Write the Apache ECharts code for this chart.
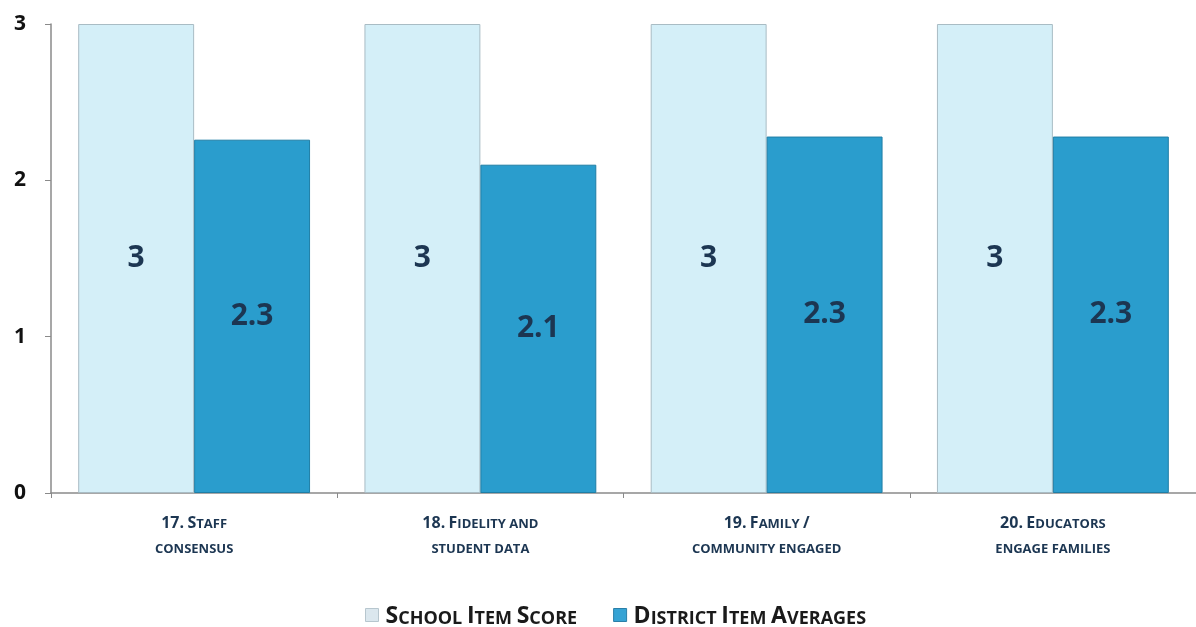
<!DOCTYPE html>
<html>
<head>
<meta charset="utf-8">
<script src="https://cdn.jsdelivr.net/npm/echarts@6/dist/echarts.min.js"></script>
<style>
html,body{margin:0;padding:0;background:#fff;}
#chart{width:1196px;height:627px;}
</style>
</head>
<body>
<div id="chart"></div>
<script>
const categories = ["17. Staff\nconsensus", "18. Fidelity and\nstudent data", "19. Family /\ncommunity engaged", "20. Educators\nengage families"];
const schoolScores = [3, 3, 3, 3];
const districtAverages = [2.26, 2.1, 2.28, 2.28];
const districtLabels = ["2.3", "2.1", "2.3", "2.3"];
const seriesNames = ["School Item Score", "District Item Averages"];
const yTicks = [0, 1, 2, 3];

// Convert text into small-caps rich text: uppercase letters in big style, others in small style
function smallCaps(text, big, small) {
  return text.split("\n").map(line => {
    let out = "", cur = null, buf = "";
    for (const ch of line) {
      const isBig = (ch !== ch.toLowerCase()) || /[0-9.\/]/.test(ch);
      const st = isBig ? big : small;
      if (st !== cur && buf) { out += "{" + cur + "|" + buf + "}"; buf = ""; }
      cur = st; buf += ch.toUpperCase();
    }
    if (buf) out += "{" + cur + "|" + buf + "}";
    return out;
  }).join("\n");
}

const navy = "#1c3652";
const chart = echarts.init(document.getElementById("chart"));
chart.setOption({
  animation: false,
  backgroundColor: "#ffffff",
  grid: { left: 51, right: -3, top: 24, bottom: 134, containLabel: false },
  legend: {
    left: 360, top: 600,
    itemWidth: 13, itemHeight: 13, itemGap: 36,
    icon: "rect",
    data: [
      { name: seriesNames[0], itemStyle: { color: "#dbe7ee", borderColor: "#b7c6ce", borderWidth: 1 } },
      { name: seriesNames[1], itemStyle: { color: "#36a3d4", borderColor: "#2a7fa8", borderWidth: 1 } }
    ],
    formatter: n => smallCaps(n, "a", "b"),
    textStyle: {
      padding: [0, 0, 0, 2],
      rich: {
        a: { fontFamily: "Open Sans", fontWeight: "bold", fontSize: 23, color: "#1a1a1a", lineHeight: 26, verticalAlign: "bottom" },
        b: { fontFamily: "Open Sans", fontWeight: "bold", fontSize: 18, color: "#1a1a1a", lineHeight: 24, verticalAlign: "bottom" }
      }
    }
  },
  xAxis: {
    type: "category",
    data: categories,
    boundaryGap: true,
    axisLine: { show: true, lineStyle: { color: "#8a8a8a", width: 1.5 } },
    axisTick: { show: true, length: 5, alignWithLabel: false, lineStyle: { color: "#8a8a8a" } },
    axisLabel: {
      margin: 13,
      interval: 0,
      formatter: v => smallCaps(v, "a", "b"),
      rich: {
        a: { fontFamily: "Open Sans", fontWeight: "bold", fontSize: 16, color: navy, lineHeight: 25, verticalAlign: "bottom" },
        b: { fontFamily: "Open Sans", fontWeight: "bold", fontSize: 13, color: navy, lineHeight: 25, verticalAlign: "bottom" }
      }
    }
  },
  yAxis: {
    type: "value",
    min: 0, max: 3, interval: 1,
    axisLine: { show: true, lineStyle: { color: "#8a8a8a", width: 1.5 } },
    axisTick: { show: true, length: 6, lineStyle: { color: "#8a8a8a" } },
    splitLine: { show: false },
    axisLabel: {
      margin: 25,
      fontFamily: "Open Sans", fontWeight: "bold", fontSize: 21, color: "#111",
      formatter: v => yTicks.includes(v) ? String(v) : ""
    }
  },
  series: [
    {
      name: seriesNames[0],
      type: "bar",
      data: schoolScores,
      barGap: "0%",
      barCategoryGap: "19%",
      itemStyle: { color: "#d4eff8", borderColor: "#a9bcc4", borderWidth: 1 },
      label: {
        show: true, position: "inside",
        fontFamily: "Open Sans", fontWeight: "bold", fontSize: 30, color: navy,
        formatter: p => String(p.value)
      }
    },
    {
      name: seriesNames[1],
      type: "bar",
      data: districtAverages,
      itemStyle: { color: "#2a9dcd", borderColor: "#1f7ea6", borderWidth: 1 },
      label: {
        show: true, position: "inside",
        fontFamily: "Open Sans", fontWeight: "bold", fontSize: 30, color: navy,
        formatter: p => districtLabels[p.dataIndex]
      }
    }
  ]
});
</script>
</body>
</html>
